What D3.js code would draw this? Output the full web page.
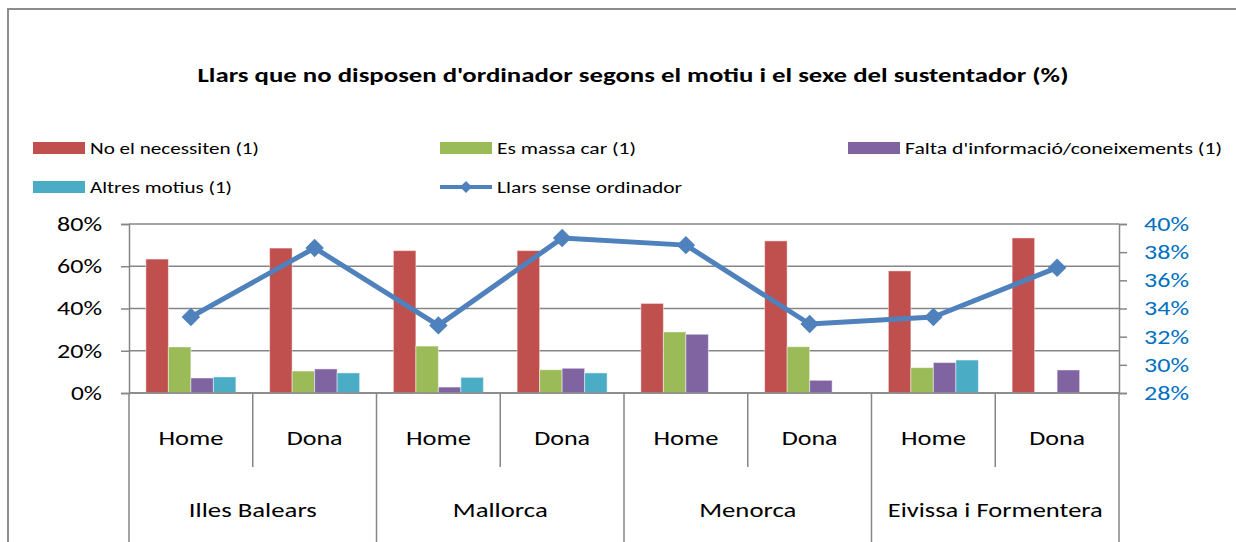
<!DOCTYPE html>
<html>
<head>
<meta charset="utf-8">
<script src="https://cdn.jsdelivr.net/npm/d3@7"></script>
<style>
  html, body { margin: 0; padding: 0; background: #fff; }
  svg { display: block; font-family: Carlito, Calibri, Lato, "Open Sans", sans-serif; }
</style>
</head>
<body>
<div id="chart"></div>
<script>
// Dades llegides del gràfic (%)
const regions = ["Illes Balears", "Mallorca", "Menorca", "Eivissa i Formentera"];
const sexes = ["Home", "Dona"];
const noNecessiten = [63.4, 68.6, 67.4, 67.4, 42.4, 72.0, 57.8, 73.4];
const massaCar = [21.8, 10.4, 22.2, 11.0, 28.9, 21.9, 12.0, 0];
const faltaInfo = [7.1, 11.4, 2.8, 11.7, 27.8, 6.0, 14.4, 10.9];
const altresMotius = [7.6, 9.5, 7.4, 9.5, 0, 0, 15.6, 0];
const llarsSense = [33.4, 38.3, 32.8, 39.0, 38.5, 32.9, 33.4, 36.9];
const leftTicks = [0, 20, 40, 60, 80];
const rightTicks = [28, 30, 32, 34, 36, 38, 40];

const seriesNames = ["No el necessiten (1)", "Es massa car (1)", "Falta d'informació/coneixements (1)", "Altres motius (1)"];
const seriesValues = [noNecessiten, massaCar, faltaInfo, altresMotius];
const lineName = "Llars sense ordinador";
const title = "Llars que no disposen d'ordinador segons el motiu i el sexe del sustentador (%)";

const colors = ["#C0504D", "#9BBB59", "#8064A2", "#4BACC6"];
const lineColor = "#4F81BD";
const gridColor = "#868686";

const W = 1236, H = 542;
const plot = { left: 129, right: 1119, top: 224, bottom: 393 };

// categories: una per regió i sexe
const categories = [];
regions.forEach(r => sexes.forEach(s => categories.push(r + "|" + s)));

const svg = d3.select("#chart").append("svg")
    .attr("width", W).attr("height", H);

// marc del gràfic
svg.append("rect")
    .attr("x", 8).attr("y", 9)
    .attr("width", 1240).attr("height", 600)
    .attr("fill", "none").attr("stroke", "#8c8c8c").attr("stroke-width", 2);

// títol
svg.append("text")
    .attr("x", 633).attr("y", 82)
    .attr("text-anchor", "middle")
    .attr("font-weight", "bold").attr("font-size", 21)
    .attr("textLength", 871).attr("lengthAdjust", "spacingAndGlyphs")
    .text(title);

// escales
const x0 = d3.scaleBand().domain(categories).range([plot.left, plot.right]).paddingInner(0).paddingOuter(0);
const x1 = d3.scaleBand().domain(d3.range(4)).range([0, x0.bandwidth()]).paddingInner(0).paddingOuter(0.75);
const yL = d3.scaleLinear().domain([0, 80]).range([plot.bottom, plot.top]);
const yR = d3.scaleLinear().domain([28, 40]).range([plot.bottom, plot.top]);

// línies de quadrícula
svg.append("g").selectAll("line").data(leftTicks).join("line")
    .attr("x1", plot.left).attr("x2", plot.right)
    .attr("y1", d => yL(d)).attr("y2", d => yL(d))
    .attr("stroke", gridColor).attr("stroke-width", 1.5);

const tickLen = d => (String(d).length === 1 ? 31 : 45);

// eix esquerre
const axL = svg.append("g").attr("transform", `translate(${plot.left},0)`)
    .call(d3.axisLeft(yL).tickValues(leftTicks).tickSize(8).tickPadding(19).tickFormat(d => d + "%"));
axL.select(".domain").attr("stroke", gridColor).attr("stroke-width", 1.5);
axL.selectAll(".tick line").attr("stroke", gridColor).attr("stroke-width", 1.5);
axL.selectAll(".tick text").attr("font-size", 20).attr("fill", "#000")
    .attr("font-family", "Carlito, Calibri, Lato, sans-serif")
    .attr("textLength", tickLen).attr("lengthAdjust", "spacingAndGlyphs");

// eix dret
const axR = svg.append("g").attr("transform", `translate(${plot.right},0)`)
    .call(d3.axisRight(yR).tickValues(rightTicks).tickSize(8).tickPadding(17).tickFormat(d => d + "%"));
axR.select(".domain").attr("stroke", gridColor).attr("stroke-width", 1.5);
axR.selectAll(".tick line").attr("stroke", gridColor).attr("stroke-width", 1.5);
axR.selectAll(".tick text").attr("font-size", 20).attr("fill", "#0070C0")
    .attr("font-family", "Carlito, Calibri, Lato, sans-serif")
    .attr("textLength", tickLen).attr("lengthAdjust", "spacingAndGlyphs");

// barres
seriesValues.forEach((vals, si) => {
  svg.append("g").selectAll("rect").data(vals).join("rect")
      .attr("x", (d, i) => x0(categories[i]) + x1(si))
      .attr("y", d => yL(d))
      .attr("width", x1.bandwidth())
      .attr("height", d => yL(0) - yL(d))
      .attr("fill", colors[si])
      .attr("stroke", "#fff").attr("stroke-opacity", 0.45).attr("stroke-width", 1);
});

// eix de categories (dos nivells)
const catLines = svg.append("g");
categories.forEach((c, i) => {
  const xs = x0(c);
  const isRegion = i % 2 === 0;
  catLines.append("line")
      .attr("x1", xs).attr("x2", xs)
      .attr("y1", plot.bottom).attr("y2", isRegion ? H : 467)
      .attr("stroke", gridColor).attr("stroke-width", 1.5);
});
catLines.append("line")
    .attr("x1", plot.right).attr("x2", plot.right)
    .attr("y1", plot.bottom).attr("y2", H)
    .attr("stroke", gridColor).attr("stroke-width", 1.5);
svg.append("line")
    .attr("x1", plot.left).attr("x2", plot.right)
    .attr("y1", plot.bottom).attr("y2", plot.bottom)
    .attr("stroke", gridColor).attr("stroke-width", 1.5);

const sexWidths = { "Home": 65, "Dona": 56 };
svg.append("g").selectAll("text").data(categories).join("text")
    .attr("x", d => x0(d) + x0.bandwidth() / 2)
    .attr("y", 445)
    .attr("text-anchor", "middle").attr("font-size", 21)
    .attr("textLength", d => sexWidths[d.split("|")[1]]).attr("lengthAdjust", "spacingAndGlyphs")
    .text(d => d.split("|")[1]);

const regionWidths = [128, 95, 97, 215];
svg.append("g").selectAll("text").data(regions).join("text")
    .attr("x", (d, i) => x0(categories[i * 2]) + x0.bandwidth())
    .attr("y", 517)
    .attr("text-anchor", "middle").attr("font-size", 21)
    .attr("textLength", (d, i) => regionWidths[i]).attr("lengthAdjust", "spacingAndGlyphs")
    .text(d => d);

// línia de llars sense ordinador
const cx = (d, i) => x0(categories[i]) + x0.bandwidth() / 2;
const line = d3.line().x(cx).y(d => yR(d));
svg.append("path")
    .datum(llarsSense)
    .attr("d", line)
    .attr("fill", "none").attr("stroke", lineColor).attr("stroke-width", 5)
    .attr("stroke-linejoin", "round");
svg.append("g").selectAll("path").data(llarsSense).join("path")
    .attr("d", d3.symbol(d3.symbolSquare).size(170))
    .attr("transform", (d, i) => `translate(${cx(d, i)},${yR(d)}) rotate(45)`)
    .attr("fill", lineColor);

// llegenda
const legendItems = [
  { name: seriesNames[0], x: 33, y: 148, type: "rect", color: colors[0], w: 169 },
  { name: seriesNames[1], x: 440, y: 148, type: "rect", color: colors[1], w: 139 },
  { name: seriesNames[2], x: 848, y: 148, type: "rect", color: colors[2], w: 317 },
  { name: seriesNames[3], x: 33, y: 187, type: "rect", color: colors[3], w: 142 },
  { name: lineName, x: 440, y: 187, type: "line", color: lineColor, w: 185 }
];
const lg = svg.append("g").selectAll("g").data(legendItems).join("g")
    .attr("transform", d => `translate(${d.x},${d.y})`);
lg.filter(d => d.type === "rect").append("rect")
    .attr("x", 0).attr("y", -6).attr("width", 52).attr("height", 12)
    .attr("fill", d => d.color);
lg.filter(d => d.type === "line").append("line")
    .attr("x1", 0).attr("x2", 52).attr("y1", 0).attr("y2", 0)
    .attr("stroke", d => d.color).attr("stroke-width", 4);
lg.filter(d => d.type === "line").append("path")
    .attr("d", d3.symbol(d3.symbolSquare).size(72))
    .attr("transform", "translate(26,0) rotate(45)")
    .attr("fill", d => d.color);
lg.append("text")
    .attr("x", 57).attr("y", 6)
    .attr("font-size", 17)
    .attr("textLength", d => d.w).attr("lengthAdjust", "spacingAndGlyphs")
    .text(d => d.name);
</script>
</body>
</html>
